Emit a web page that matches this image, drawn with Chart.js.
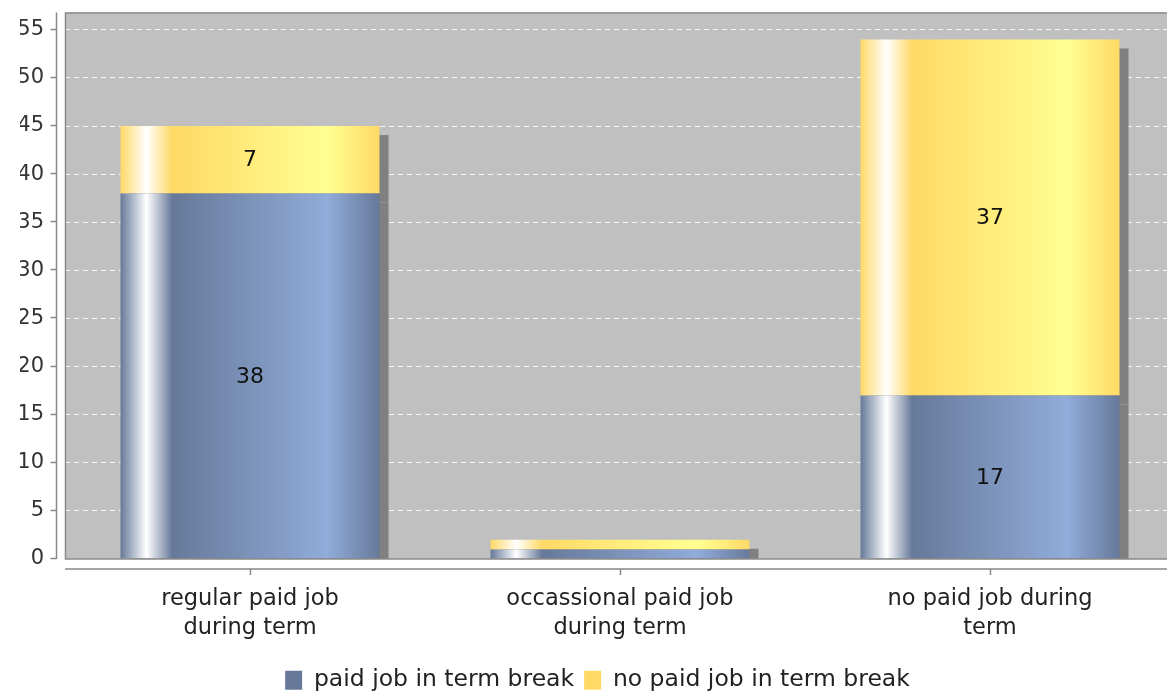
<!DOCTYPE html>
<html><head><meta charset="utf-8">
<script src="https://cdn.jsdelivr.net/npm/chart.js@4.4.0/dist/chart.umd.min.js"></script>
<style>
html,body{margin:0;padding:0;background:#fff;overflow:hidden;width:1167px;height:691px;}
#wrap{position:absolute;left:0;top:0;width:1178px;height:702px;}
canvas{display:block;}
</style></head><body>
<div id="wrap"><canvas id="c" width="1178" height="702" style="width:1178px;height:702px"></canvas></div>
<script>
const categories = [["regular paid job","during term"],["occassional paid job","during term"],["no paid job during","term"]];
const seriesNames = ["paid job in term break","no paid job in term break"];
const paidBreak = [38, 1, 17];
const noPaidBreak = [7, 1, 37];
const yTicks = [0,5,10,15,20,25,30,35,40,45,50,55];
const yMax = 56.8;

const FONT = "'DejaVu Sans', sans-serif";
const baseColors = [[102,121,153],[255,217,102]];
const brightColors = [[145,172,218],[255,255,145]];
const BAR_PCT = 0.7;
const rgb = c => `rgb(${c[0]},${c[1]},${c[2]})`;

function gradientFor(si) {
  return function(ctx) {
    const chart = ctx.chart;
    const xs = chart.scales && chart.scales.x;
    if (!xs || !chart.chartArea || ctx.dataIndex === undefined) return rgb(baseColors[si]);
    const cx = xs.getPixelForValue(ctx.dataIndex);
    const w = (xs.width / chart.data.labels.length) * BAR_PCT;
    const x0 = cx - w / 2, x1 = cx + w / 2;
    const g = chart.ctx.createLinearGradient(x0, 0, x1, 0);
    g.addColorStop(0, rgb(baseColors[si]));
    g.addColorStop(0.10, '#ffffff');
    g.addColorStop(0.20, rgb(baseColors[si]));
    g.addColorStop(0.80, rgb(brightColors[si]));
    g.addColorStop(1, rgb(baseColors[si]));
    return g;
  };
}

const SHADOW = 9;
const decor = {
  id: 'decor',
  beforeDraw(chart) {
    const {ctx, chartArea: a} = chart;
    ctx.save();
    ctx.fillStyle = '#c0c0c0';
    ctx.fillRect(a.left, a.top, a.right - a.left, a.bottom - a.top);
    ctx.restore();
  },
  beforeDatasetsDraw(chart) {
    const {ctx, chartArea: a} = chart;
    ctx.save();
    ctx.beginPath();
    ctx.rect(a.left, a.top, a.right - a.left, a.bottom - a.top);
    ctx.clip();
    ctx.fillStyle = '#808080';
    chart.data.datasets.forEach((ds, di) => {
      chart.getDatasetMeta(di).data.forEach(el => {
        const p = el.getProps(['x','y','base','width'], true);
        const top = Math.min(p.y, p.base), h = Math.abs(p.base - p.y);
        ctx.fillRect(p.x - p.width / 2 + SHADOW, top + SHADOW, p.width, h);
      });
    });
    ctx.restore();
  },
  afterDatasetsDraw(chart) {
    const {ctx, chartArea: a} = chart;
    const ys = chart.scales.y, xs = chart.scales.x;
    ctx.save();
    // plot outline
    ctx.strokeStyle = '#8a8a8a';
    ctx.lineWidth = 1.5;
    ctx.beginPath();
    ctx.moveTo(a.right + 5, a.top + 0.5);
    ctx.lineTo(a.left + 0.5, a.top + 0.5);
    ctx.lineTo(a.left + 0.5, a.bottom);
    ctx.lineTo(a.right + 5, a.bottom);
    ctx.stroke();
    // y axis line and ticks
    ctx.strokeStyle = '#888888';
    ctx.lineWidth = 1.5;
    const ax = a.left - 8.5;
    ctx.beginPath();
    ctx.moveTo(ax, a.top);
    ctx.lineTo(ax, a.bottom);
    yTicks.forEach(v => {
      const y = Math.round(ys.getPixelForValue(v)) - 0.5;
      ctx.moveTo(ax - 6, y);
      ctx.lineTo(ax, y);
    });
    ctx.stroke();
    // x axis line and ticks
    const ay = a.bottom + 10;
    ctx.beginPath();
    ctx.moveTo(a.left, ay);
    ctx.lineTo(a.right + 5, ay);
    chart.data.labels.forEach((l, i) => {
      const x = Math.round(xs.getPixelForValue(i)) + 0.5;
      ctx.moveTo(x, ay);
      ctx.lineTo(x, ay + 6);
    });
    ctx.stroke();
    // value labels
    ctx.fillStyle = '#111111';
    ctx.font = `22px ${FONT}`;
    ctx.textAlign = 'center';
    ctx.textBaseline = 'middle';
    chart.data.datasets.forEach((ds, di) => {
      chart.getDatasetMeta(di).data.forEach((el, i) => {
        const p = el.getProps(['x','y','base'], true);
        const h = Math.abs(p.base - p.y);
        if (h < 25) return;
        ctx.fillText(String(ds.data[i]), p.x, (p.y + p.base) / 2 + 1);
      });
    });
    ctx.restore();
  }
};

new Chart(document.getElementById('c'), {
  type: 'bar',
  data: {
    labels: categories,
    datasets: [
      { label: seriesNames[0], data: paidBreak, backgroundColor: gradientFor(0), borderWidth: 0 },
      { label: seriesNames[1], data: noPaidBreak, backgroundColor: gradientFor(1), borderWidth: 0 }
    ]
  },
  plugins: [decor],
  options: {
    responsive: false,
    animation: false,
    devicePixelRatio: 1,
    layout: { padding: { left: 20, right: 3, top: 12.5, bottom: 0 } },
    datasets: { bar: { barPercentage: BAR_PCT, categoryPercentage: 1 } },
    scales: {
      x: {
        stacked: true,
        grid: { display: false, drawTicks: false },
        border: { display: false },
        ticks: { color: '#222222', font: { family: FONT, size: 22.5, lineHeight: 29 / 22.5 }, padding: 25.5, maxRotation: 0, autoSkip: false },
        afterFit(s) { s.height = 99.5; s.paddingLeft = 0; s.paddingRight = 0; s.paddingTop = 0; s.paddingBottom = 0; }
      },
      y: {
        stacked: true,
        min: 0, max: yMax,
        afterBuildTicks(s) { s.ticks = yTicks.map(v => ({ value: v })); },
        grid: {
          drawTicks: false,
          color: c => (c.tick && c.tick.value === 0) ? 'rgba(0,0,0,0)' : 'rgba(255,255,255,0.85)',
          lineWidth: 1
        },
        border: { display: false, dash: [5, 4] },
        ticks: { color: '#333333', font: { family: FONT, size: 21 }, padding: 21 },
        afterFit(s) { s.width = 45; s.paddingTop = 0; s.paddingBottom = 0; s.paddingLeft = 0; s.paddingRight = 0; }
      }
    },
    plugins: {
      tooltip: { enabled: false },
      legend: {
        position: 'bottom',
        labels: {
          color: '#222222',
          font: { family: FONT, size: 23.5 },
          boxWidth: 17, boxHeight: 19, padding: 10,
          generateLabels(chart) {
            return chart.data.datasets.map((ds, i) => ({
              text: ds.label, fillStyle: rgb(baseColors[i]), strokeStyle: rgb(baseColors[i]),
              lineWidth: 0, hidden: false, datasetIndex: i, fontColor: '#222222'
            }));
          }
        }
      }
    }
  }
});
</script>
</body></html>
